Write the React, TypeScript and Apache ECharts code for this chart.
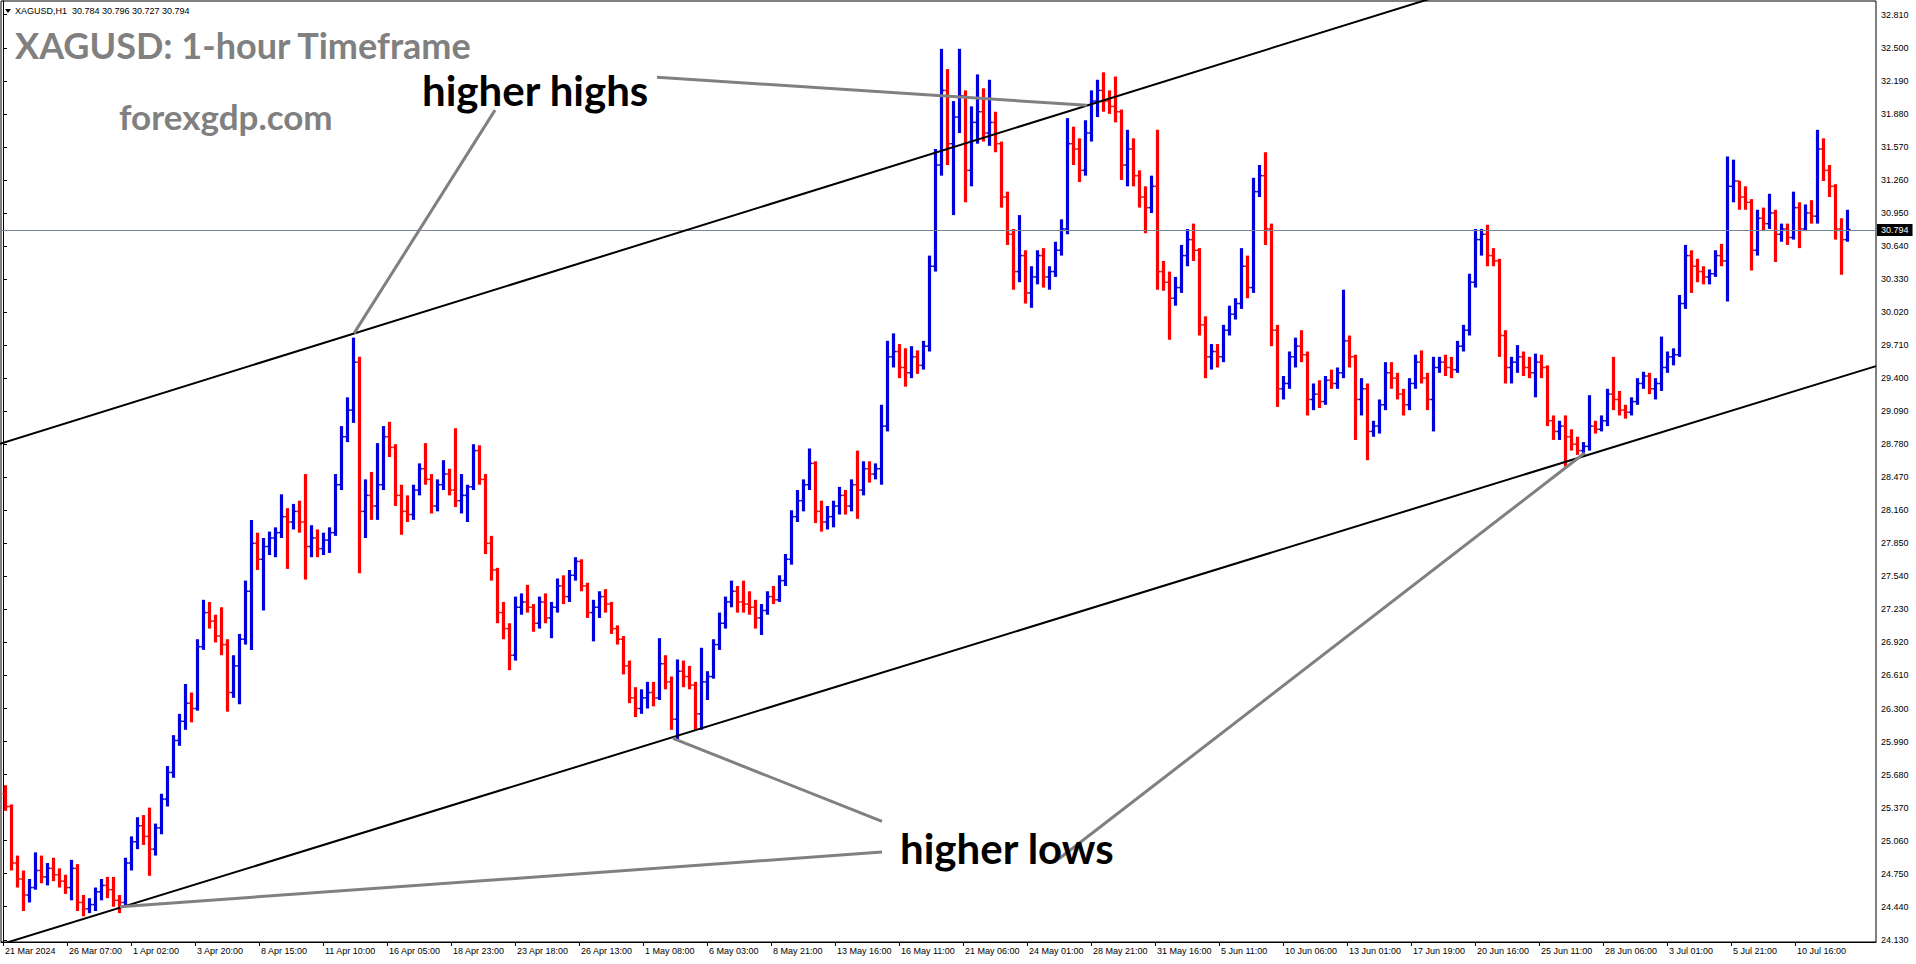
import React, { useEffect, useRef } from "react";
import * as echarts from "echarts";

// 6-hour OHLC bars [open, high, low, close]
const marchBars = [
  [25.5, 25.58, 25.34, 25.38], [25.38, 25.4, 24.78, 24.85], [24.85, 24.92, 24.62, 24.7], [24.7, 24.78, 24.4, 24.55],
  [24.55, 24.7, 24.48, 24.62], [24.62, 24.95, 24.6, 24.78], [24.78, 24.92, 24.66, 24.72], [24.72, 24.85, 24.64, 24.8],
  [24.8, 24.9, 24.68, 24.74], [24.74, 24.8, 24.62, 24.68], [24.68, 24.74, 24.56, 24.62], [24.62, 24.88, 24.5, 24.8],
  [24.8, 24.84, 24.4, 24.48], [24.48, 24.55, 24.35, 24.42], [24.42, 24.52, 24.38, 24.46], [24.46, 24.62, 24.4, 24.58],
  [24.58, 24.7, 24.5, 24.64], [24.64, 24.72, 24.52, 24.6], [24.6, 24.72, 24.44, 24.5], [24.5, 24.55, 24.38, 24.48],
  [24.48, 24.9, 24.45, 24.85],
];
const aprilBars = [
  [24.85, 25.1, 24.78, 25.05], [25.05, 25.28, 24.98, 25.2], [25.2, 25.3, 25.02, 25.1], [25.1, 25.37, 24.73, 24.98],
  [24.98, 25.22, 24.92, 25.18], [25.18, 25.5, 25.12, 25.45], [25.45, 25.76, 25.38, 25.7], [25.7, 26.05, 25.65, 26.0],
  [26.0, 26.25, 25.95, 26.18], [26.18, 26.53, 26.1, 26.35], [26.35, 26.45, 26.17, 26.3], [26.3, 26.95, 26.28, 26.88],
  [26.88, 27.32, 26.85, 27.2], [27.2, 27.3, 27.05, 27.12], [27.12, 27.18, 26.92, 26.98], [26.98, 27.25, 26.8, 26.9],
  [26.9, 26.95, 26.27, 26.45], [26.45, 26.8, 26.4, 26.7], [26.7, 27.0, 26.34, 26.95], [26.95, 27.5, 26.9, 27.4],
  [27.4, 28.07, 26.85, 27.85], [27.85, 27.95, 27.6, 27.7], [27.7, 27.9, 27.22, 27.82], [27.82, 27.96, 27.74, 27.9],
  [27.9, 28.0, 27.72, 27.95], [27.95, 28.31, 27.9, 28.1], [28.1, 28.18, 27.61, 28.05], [28.05, 28.22, 27.98, 28.15],
  [28.15, 28.25, 27.95, 28.05], [28.05, 28.5, 27.51, 27.82], [27.82, 28.02, 27.72, 27.9], [27.9, 27.98, 27.72, 27.8],
  [27.8, 27.95, 27.74, 27.88], [27.88, 28.0, 27.76, 27.95], [27.95, 28.5, 27.92, 28.4], [28.4, 28.95, 28.35, 28.85],
  [28.85, 29.22, 28.8, 29.1], [29.1, 29.78, 28.98, 29.55], [29.55, 29.6, 27.57, 28.15], [28.15, 28.45, 27.9, 28.3],
  [28.3, 28.52, 28.07, 28.2], [28.2, 28.79, 28.07, 28.4], [28.4, 28.95, 28.35, 28.85], [28.85, 28.99, 28.66, 28.75],
  [28.75, 28.78, 28.2, 28.3], [28.3, 28.4, 27.93, 28.15], [28.15, 28.3, 28.05, 28.12], [28.12, 28.4, 28.07, 28.35],
  [28.35, 28.6, 28.3, 28.55], [28.55, 28.79, 28.4, 28.45], [28.45, 28.5, 28.13, 28.2], [28.2, 28.45, 28.15, 28.4],
  [28.4, 28.63, 28.35, 28.5], [28.5, 28.55, 28.3, 28.35], [28.35, 28.93, 28.19, 28.25], [28.25, 28.5, 28.13, 28.3],
  [28.3, 28.4, 28.05, 28.38], [28.38, 28.78, 28.35, 28.72], [28.72, 28.77, 28.4, 28.45], [28.45, 28.5, 27.75, 27.85],
  [27.85, 27.92, 27.5, 27.6], [27.6, 27.62, 27.1, 27.2], [27.2, 27.3, 26.95, 27.05], [27.05, 27.1, 26.66, 26.8],
  [26.8, 27.35, 26.75, 27.25], [27.25, 27.38, 27.18, 27.3], [27.3, 27.46, 27.2, 27.25], [27.25, 27.28, 27.02, 27.1],
  [27.1, 27.35, 27.05, 27.3], [27.3, 27.38, 27.1, 27.15], [27.15, 27.3, 26.96, 27.25], [27.25, 27.52, 27.2, 27.45],
  [27.45, 27.55, 27.28, 27.35], [27.35, 27.6, 27.3, 27.55], [27.55, 27.72, 27.5, 27.68], [27.68, 27.7, 27.4, 27.45],
  [27.45, 27.48, 27.15, 27.2], [27.2, 27.32, 26.93, 27.25], [27.25, 27.4, 27.15, 27.35], [27.35, 27.42, 27.2, 27.28],
  [27.28, 27.3, 27.0, 27.05], [27.05, 27.08, 26.9, 26.95], [26.95, 26.98, 26.62, 26.7], [26.7, 26.75, 26.35, 26.4],
  [26.4, 26.5, 26.22, 26.3], [26.3, 26.48, 26.25, 26.4],
];
const mayBars = [
  [26.4, 26.55, 26.3, 26.45], [26.45, 26.55, 26.32, 26.4], [26.4, 26.96, 26.38, 26.72], [26.72, 26.8, 26.48, 26.55],
  [26.55, 26.6, 26.1, 26.2], [26.2, 26.76, 26.0, 26.65], [26.65, 26.75, 26.5, 26.6], [26.6, 26.7, 26.48, 26.52],
  [26.52, 26.55, 26.1, 26.25], [26.25, 26.87, 26.1, 26.55], [26.55, 26.65, 26.38, 26.6], [26.6, 26.95, 26.58, 26.9],
  [26.9, 27.2, 26.85, 27.1], [27.1, 27.35, 27.05, 27.3], [27.3, 27.5, 27.25, 27.4], [27.4, 27.45, 27.2, 27.3],
  [27.3, 27.5, 27.2, 27.28], [27.28, 27.4, 27.18, 27.25], [27.25, 27.32, 27.05, 27.15], [27.15, 27.28, 26.99, 27.22],
  [27.22, 27.4, 27.18, 27.35], [27.35, 27.45, 27.28, 27.32], [27.32, 27.55, 27.3, 27.5], [27.5, 27.75, 27.45, 27.7],
  [27.7, 28.16, 27.65, 28.1], [28.1, 28.35, 28.05, 28.25], [28.25, 28.45, 28.15, 28.4], [28.4, 28.74, 28.35, 28.6],
  [28.6, 28.62, 28.04, 28.15], [28.15, 28.25, 27.96, 28.05], [28.05, 28.2, 27.98, 28.1], [28.1, 28.25, 28.0, 28.2],
  [28.2, 28.38, 28.12, 28.3], [28.3, 28.35, 28.12, 28.2], [28.2, 28.45, 28.15, 28.4], [28.4, 28.72, 28.08, 28.35],
  [28.35, 28.62, 28.3, 28.55], [28.55, 28.62, 28.42, 28.5], [28.5, 28.6, 28.45, 28.55], [28.55, 29.15, 28.4, 28.95],
  [28.95, 29.75, 28.9, 29.6], [29.6, 29.82, 29.5, 29.65], [29.65, 29.72, 29.4, 29.5], [29.5, 29.68, 29.32, 29.45],
  [29.45, 29.7, 29.4, 29.6], [29.6, 29.66, 29.44, 29.52], [29.52, 29.75, 29.48, 29.7], [29.7, 30.55, 29.65, 30.45],
  [30.45, 31.55, 30.4, 31.4], [31.4, 32.49, 31.3, 32.1], [32.1, 32.3, 31.4, 31.6], [31.6, 32.0, 30.93, 31.85],
  [31.85, 32.49, 31.7, 32.05], [32.05, 32.1, 31.05, 31.35], [31.35, 31.95, 31.2, 31.8], [31.8, 32.25, 31.6, 31.9],
  [31.9, 32.12, 31.62, 31.7], [31.7, 32.2, 31.58, 31.8], [31.8, 31.9, 31.52, 31.6], [31.6, 31.62, 31.0, 31.1],
  [31.1, 31.15, 30.65, 30.75], [30.75, 30.8, 30.23, 30.4], [30.4, 30.93, 30.3, 30.55], [30.55, 30.6, 30.1, 30.2],
  [30.2, 30.45, 30.06, 30.35], [30.35, 30.6, 30.28, 30.55], [30.55, 30.62, 30.25, 30.35], [30.35, 30.45, 30.23, 30.4],
  [30.4, 30.68, 30.35, 30.6], [30.6, 30.89, 30.55, 30.8], [30.8, 31.84, 30.75, 31.6], [31.6, 31.76, 31.4, 31.55],
  [31.55, 31.65, 31.24, 31.35], [31.35, 31.82, 31.3, 31.7], [31.7, 32.1, 31.62, 32.0], [32.0, 32.2, 31.85, 32.1],
  [32.1, 32.27, 31.9, 32.0], [32.0, 32.1, 31.88, 31.95], [31.95, 32.23, 31.8, 31.9], [31.9, 31.92, 31.26, 31.4],
  [31.4, 31.73, 31.2, 31.55], [31.55, 31.65, 31.2, 31.3], [31.3, 31.35, 31.0, 31.1], [31.1, 31.2, 30.76, 31.0],
  [31.0, 31.3, 30.95, 31.2], [31.2, 31.73, 30.23, 30.4],
];
const juneBars = [
  [30.4, 30.5, 30.22, 30.3], [30.3, 30.4, 29.76, 30.15], [30.15, 30.35, 30.08, 30.25], [30.25, 30.65, 30.2, 30.55],
  [30.55, 30.8, 30.45, 30.7], [30.7, 30.85, 30.5, 30.6], [30.6, 30.62, 29.8, 29.9], [29.9, 29.98, 29.4, 29.6],
  [29.6, 29.72, 29.48, 29.65], [29.65, 29.72, 29.5, 29.6], [29.6, 29.9, 29.55, 29.85], [29.85, 30.08, 29.8, 30.0],
  [30.0, 30.15, 29.95, 30.1], [30.1, 30.62, 30.05, 30.45], [30.45, 30.55, 30.15, 30.25], [30.25, 31.28, 30.2, 31.15],
  [31.15, 31.4, 31.1, 31.3], [31.3, 31.52, 30.65, 30.8], [30.8, 30.85, 29.7, 29.85], [29.85, 29.9, 29.13, 29.3],
  [29.3, 29.42, 29.2, 29.35], [29.35, 29.65, 29.3, 29.6], [29.6, 29.78, 29.5, 29.7], [29.7, 29.85, 29.55, 29.62],
  [29.62, 29.65, 29.05, 29.2], [29.2, 29.35, 29.1, 29.25], [29.25, 29.38, 29.12, 29.18], [29.18, 29.42, 29.15, 29.38],
  [29.38, 29.48, 29.3, 29.35], [29.35, 29.5, 29.3, 29.45], [29.45, 30.23, 29.4, 29.75], [29.75, 29.8, 29.5, 29.6],
  [29.6, 29.62, 28.82, 29.2], [29.2, 29.4, 29.05, 29.3], [29.3, 29.35, 28.63, 28.9], [28.9, 29.0, 28.85, 28.95],
  [28.95, 29.2, 28.88, 29.15], [29.15, 29.55, 29.1, 29.45], [29.45, 29.55, 29.3, 29.4], [29.4, 29.45, 29.2, 29.25],
  [29.25, 29.3, 29.05, 29.15], [29.15, 29.4, 29.1, 29.35], [29.35, 29.62, 29.3, 29.55], [29.55, 29.66, 29.35, 29.4],
  [29.4, 29.45, 29.1, 29.2], [29.2, 29.6, 28.9, 29.5], [29.5, 29.6, 29.45, 29.55], [29.55, 29.62, 29.42, 29.5],
  [29.5, 29.6, 29.4, 29.48], [29.48, 29.75, 29.45, 29.7], [29.7, 29.9, 29.65, 29.85], [29.85, 30.38, 29.8, 30.3],
  [30.3, 30.8, 30.25, 30.7], [30.7, 30.8, 30.55, 30.75], [30.75, 30.84, 30.45, 30.55], [30.55, 30.62, 30.45, 30.5],
  [30.5, 30.52, 29.6, 29.8], [29.8, 29.85, 29.35, 29.5], [29.5, 29.6, 29.35, 29.55], [29.55, 29.71, 29.45, 29.6],
  [29.6, 29.65, 29.42, 29.5], [29.5, 29.6, 29.4, 29.45], [29.45, 29.63, 29.22, 29.55], [29.55, 29.62, 29.4, 29.5],
  [29.5, 29.52, 28.95, 29.0], [29.0, 29.05, 28.82, 28.9], [28.9, 29.0, 28.82, 28.95], [28.95, 29.05, 28.57, 28.85],
  [28.85, 28.92, 28.72, 28.78], [28.78, 28.85, 28.68, 28.72], [28.72, 28.8, 28.66, 28.76], [28.76, 29.24, 28.72, 28.95],
  [28.95, 29.0, 28.88, 28.92], [28.92, 29.05, 28.9, 29.0], [29.0, 29.3, 28.95, 29.25], [29.25, 29.6, 29.1, 29.2],
];
const julyBars = [
  [29.2, 29.28, 29.05, 29.1], [29.1, 29.15, 29.02, 29.08], [29.08, 29.22, 29.05, 29.18], [29.18, 29.4, 29.15, 29.35],
  [29.35, 29.46, 29.3, 29.42], [29.42, 29.45, 29.25, 29.3], [29.3, 29.4, 29.2, 29.35], [29.35, 29.79, 29.28, 29.5],
  [29.5, 29.65, 29.45, 29.6], [29.6, 29.68, 29.52, 29.62], [29.62, 30.18, 29.6, 30.1], [30.1, 30.65, 30.05, 30.55],
  [30.55, 30.6, 30.2, 30.45], [30.45, 30.52, 30.3, 30.4], [30.4, 30.45, 30.28, 30.35], [30.35, 30.42, 30.28, 30.38],
  [30.38, 30.6, 30.35, 30.55], [30.55, 30.66, 30.45, 30.5], [30.5, 31.48, 30.12, 31.2], [31.2, 31.45, 31.05, 31.25],
  [31.25, 31.25, 30.98, 31.1], [31.1, 31.2, 30.98, 31.05], [31.05, 31.08, 30.41, 30.6], [30.6, 30.98, 30.55, 30.9],
  [30.9, 31.0, 30.78, 30.85], [30.85, 31.13, 30.8, 30.95], [30.95, 30.98, 30.49, 30.75], [30.75, 30.85, 30.68, 30.8],
  [30.8, 30.85, 30.65, 30.72], [30.72, 31.15, 30.7, 31.0], [31.0, 31.05, 30.62, 30.8], [30.8, 31.03, 30.78, 30.95],
  [30.95, 31.07, 30.85, 30.92], [30.92, 31.73, 30.85, 31.55], [31.55, 31.65, 31.25, 31.35], [31.35, 31.4, 31.1, 31.2],
  [31.2, 31.22, 30.7, 30.8], [30.8, 30.9, 30.37, 30.7], [30.7, 30.98, 30.68, 30.794],
];

const HOURS_PER_BAR = 6;
const HOURS_PER_LABEL = 64;

const xLabels = [
  "21 Mar 2024", "26 Mar 07:00", "1 Apr 02:00", "3 Apr 20:00", "8 Apr 15:00", "11 Apr 10:00",
  "16 Apr 05:00", "18 Apr 23:00", "23 Apr 18:00", "26 Apr 13:00", "1 May 08:00", "6 May 03:00",
  "8 May 21:00", "13 May 16:00", "16 May 11:00", "21 May 06:00", "24 May 01:00", "28 May 21:00",
  "31 May 16:00", "5 Jun 11:00", "10 Jun 06:00", "13 Jun 01:00", "17 Jun 19:00", "20 Jun 16:00",
  "25 Jun 11:00", "28 Jun 06:00", "3 Jul 01:00", "5 Jul 21:00", "10 Jul 16:00",
];
const yTicks = [
  24.13, 24.44, 24.75, 25.06, 25.37, 25.68, 25.99, 26.3, 26.61, 26.92, 27.23, 27.54, 27.85, 28.16, 28.47,
  28.78, 29.09, 29.4, 29.71, 30.02, 30.33, 30.64, 30.95, 31.26, 31.57, 31.88, 32.19, 32.5, 32.81,
];
const lastPrice = 30.794;
const headerText = "XAGUSD,H1  30.784 30.796 30.727 30.794";

// trend lines, [hour index, price]
const upperChannel = [[-3, 28.785], [1500, 33.173]];
const lowerChannel = [[-3, 24.084], [1873, 29.513]];
const higherHighLines = [
  [[492, 31.915], [351, 29.82]],
  [[654, 32.224], [1084, 31.96]],
];
const higherLowLines = [
  [[879, 24.953], [117, 24.44]],
  [[879, 25.24], [670, 26.02]],
  [[1056, 24.89], [1582, 28.7]],
];

const UP = "#0000dd";
const DOWN = "#ff0000";
const GREY = "#808080";

export default function App() {
  const ref = useRef<HTMLDivElement>(null);
  useEffect(() => {
    if (!ref.current) return;
    const chart = echarts.init(ref.current, null, { renderer: "svg" });
    const bars = [...marchBars, ...aprilBars, ...mayBars, ...juneBars, ...julyBars];
    const barData = bars.map((b, i) => [i * HOURS_PER_BAR + 2.5, b[0], b[1], b[2], b[3]]);

    const lineSeries = (data: number[][], color: string, width: number, z: number) => ({
      type: "line",
      data,
      symbol: "none",
      silent: true,
      z,
      lineStyle: { color, width },
      animation: false,
    });

    const option = {
      animation: false,
      backgroundColor: "#ffffff",
      grid: { left: 1, right: 40, top: 1, bottom: 22, show: true, borderColor: "#000", borderWidth: 1, backgroundColor: "transparent" },
      xAxis: {
        type: "value",
        min: -2,
        max: 1873,
        position: "bottom",
        splitLine: { show: false },
        axisLine: { show: true, lineStyle: { color: "#000", width: 1 } },
        axisTick: {
          show: true,
          length: 4,
          lineStyle: { color: "#000" },
          customValues: xLabels.map((_, k) => k * HOURS_PER_LABEL),
        },
        axisLabel: {
          show: true,
          customValues: xLabels.map((_, k) => k * HOURS_PER_LABEL),
          formatter: (v: number) => xLabels[Math.round(v / HOURS_PER_LABEL)] ?? "",
          align: "left",
          margin: 4,
          padding: [0, 0, 0, 2],
          color: "#000",
          fontSize: 9,
          fontFamily: "Liberation Sans, Arial, sans-serif",
        },
      },
      yAxis: {
        type: "value",
        min: 24.109,
        max: 32.939,
        position: "right",
        splitLine: { show: false },
        axisLine: { show: true, lineStyle: { color: "#000", width: 1 } },
        axisTick: { show: true, length: 4, lineStyle: { color: "#000" }, customValues: yTicks },
        axisLabel: {
          show: true,
          customValues: yTicks,
          formatter: (v: number) => v.toFixed(3),
          margin: 5,
          color: "#000",
          fontSize: 9,
          fontFamily: "Liberation Sans, Arial, sans-serif",
        },
      },
      series: [
        {
          type: "custom",
          name: "XAGUSD",
          data: barData,
          encode: { x: 0, y: [1, 2, 3, 4] },
          z: 2,
          silent: true,
          renderItem: (params: any, api: any) => {
            const x = api.value(0);
            const o = api.value(1);
            const h = api.value(2);
            const l = api.value(3);
            const c = api.value(4);
            const pH = api.coord([x, h]);
            const pL = api.coord([x, l]);
            const pO = api.coord([x, o]);
            const pC = api.coord([x, c]);
            const color = c >= o ? UP : DOWN;
            return {
              type: "group",
              children: [
                { type: "line", shape: { x1: pH[0], y1: pH[1], x2: pL[0], y2: pL[1] }, style: { stroke: color, lineWidth: 3.2 } },
                { type: "line", shape: { x1: pO[0] - 3, y1: pO[1], x2: pO[0], y2: pO[1] }, style: { stroke: color, lineWidth: 1.5 } },
                { type: "line", shape: { x1: pC[0], y1: pC[1], x2: pC[0] + 3, y2: pC[1] }, style: { stroke: color, lineWidth: 1.5 } },
              ],
            };
          },
        },
        {
          ...lineSeries(lowerChannel, "#000", 2, 5),
          markLine: {
            silent: true,
            symbol: ["none", "none"],
            animation: false,
            data: [{ yAxis: lastPrice }],
            lineStyle: { color: "#7a8593", width: 1, type: "solid" },
            label: {
              show: true,
              position: "end",
              distance: 1,
              formatter: lastPrice.toFixed(3),
              backgroundColor: "#000",
              color: "#fff",
              padding: [2, 4, 1, 4],
              fontSize: 9,
              fontFamily: "Liberation Sans, Arial, sans-serif",
            },
          },
        },
        lineSeries(upperChannel, "#000", 2, 5),
        ...higherHighLines.map((d) => lineSeries(d, GREY, 3, 6)),
        ...higherLowLines.map((d) => lineSeries(d, GREY, 3, 6)),
      ],
      graphic: [
        { type: "polygon", shape: { points: [[5, 9], [11, 9], [8, 13]] }, style: { fill: "#000" }, z: 10 },
        {
          type: "text", x: 15, y: 11, z: 10,
          style: { text: headerText, font: "9px Liberation Sans, Arial, sans-serif", fill: "#000", verticalAlign: "middle" },
        },
        {
          type: "text", x: 15, y: 45, z: 10,
          style: { text: "XAGUSD: 1-hour Timeframe", font: "bold 36px Lato, sans-serif", fill: GREY, verticalAlign: "middle" },
        },
        {
          type: "text", x: 119, y: 116, z: 10,
          style: { text: "forexgdp.com", font: "bold 35px Lato, sans-serif", fill: GREY, verticalAlign: "middle" },
        },
        {
          type: "text", x: 422, y: 90, z: 10,
          style: { text: "higher highs", font: "bold 42px Lato, sans-serif", fill: "#000", verticalAlign: "middle" },
        },
        {
          type: "text", x: 900, y: 848, z: 10,
          style: { text: "higher lows", font: "bold 42px Lato, sans-serif", fill: "#000", verticalAlign: "middle" },
        },
      ],
    };
    chart.setOption(option as any);
    return () => chart.dispose();
  }, []);
  return (
    <div
      ref={ref}
      style={{ position: "fixed", left: 0, top: 0, width: 1916, height: 964, background: "#fff" }}
    />
  );
}
